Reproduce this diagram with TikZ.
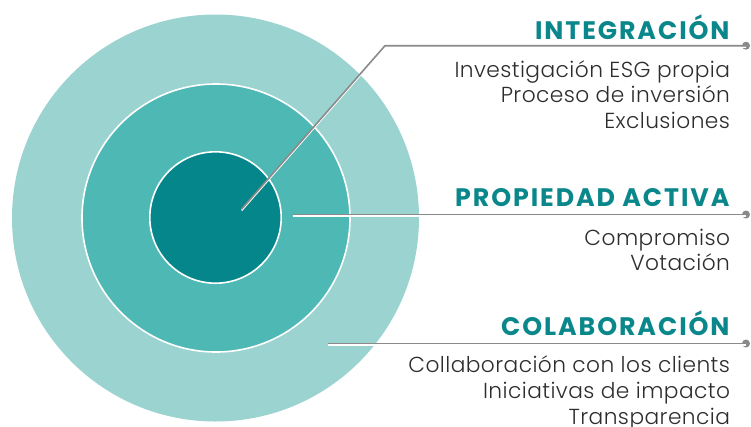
\documentclass[tikz,border=0pt]{standalone}
\usepackage{fontspec}
\setmainfont{Poppins}[UprightFont=* Light, BoldFont=* SemiBold]
\newfontfamily\headfont{Poppins}[UprightFont=* Bold, LetterSpace=7.5]
\newfontfamily\bodyfont{Poppins}[UprightFont=* Light, LetterSpace=2]
\definecolor{ringOuter}{RGB}{155,211,209}
\definecolor{ringMiddle}{RGB}{78,184,180}
\definecolor{ringInner}{RGB}{5,134,138}
\definecolor{headTeal}{RGB}{10,135,138}
\definecolor{leadGray}{RGB}{138,138,138}
\definecolor{bodyGray}{RGB}{45,45,45}
\tikzset{every picture/.style={line width=0.75pt}}
\tikzset{
  heading/.style={anchor=base east, inner sep=0pt, text=headTeal, font=\headfont\fontsize{19}{22}\selectfont},
  itemtext/.style={anchor=base east, inner sep=0pt, text=bodyGray, font=\bodyfont\fontsize{16.3}{19}\selectfont},
  leader/.style={draw=leadGray, line width=1.2pt, preaction={draw=white, line width=1.1pt, transform canvas={yshift=-1.1pt}}},
  leaddot/.style={circle, fill=leadGray, inner sep=0pt, minimum size=6pt},
}

\begin{document}
\begin{tikzpicture}[x=0.75pt,y=0.75pt,yscale=-1,xscale=1]
    \useasboundingbox (0,0) rectangle (751,426);

    %Shape: Circle
    \fill [color=ringOuter] (215.5,218) circle [radius=203.5];
    %Shape: Circle
    \draw [color=white, fill=ringMiddle, line width=1.2pt] (216,218) circle [radius=134];
    %Shape: Circle
    \draw [color=white, fill=ringInner, line width=1.2pt] (215.5,217.5) circle [radius=65.7];

    % Leader points
    \coordinate (c-integ) at (241.7,209);
    \coordinate (k-integ) at (385,45.7);
    \coordinate (c-prop) at (292.7,214.5);
    \coordinate (c-colab) at (328,343.5);
    \node [leaddot] (d-integ) at (746,45.7) {};
    \node [leaddot] (d-prop) at (746,214.5) {};
    \node [leaddot] (d-colab) at (746,343.5) {};

    %Straight Lines
    \draw [leader] (c-integ) -- (k-integ) -- (d-integ.center);
    %Straight Lines
    \draw [leader] (c-prop) -- (d-prop.center);
    %Straight Lines
    \draw [leader] (c-colab) -- (d-colab.center);

    % Text Node
    \node [heading] (h-integ) at (730,39) {INTEGRACIÓN};
    \foreach \txt [count=\i] in {Investigación ESG propia, Proceso de inversión, Exclusiones}
      \node [itemtext] (integ-\i) at (730.5,51.5+25.5*\i) {\txt};

    % Text Node
    \node [heading] (h-prop) at (730,206.7) {PROPIEDAD ACTIVA};
    \foreach \txt [count=\i] in {Compromiso, Votación}
      \node [itemtext] (prop-\i) at (730.5,219.5+25.5*\i) {\txt};

    % Text Node
    \node [heading] (h-colab) at (730,335) {COLABORACIÓN};
    \foreach \txt [count=\i] in {Collaboración con los clients, Iniciativas de impacto, Transparencia}
      \node [itemtext] (colab-\i) at (730.5,347+25.8*\i) {\txt};

\end{tikzpicture}
\end{document}
